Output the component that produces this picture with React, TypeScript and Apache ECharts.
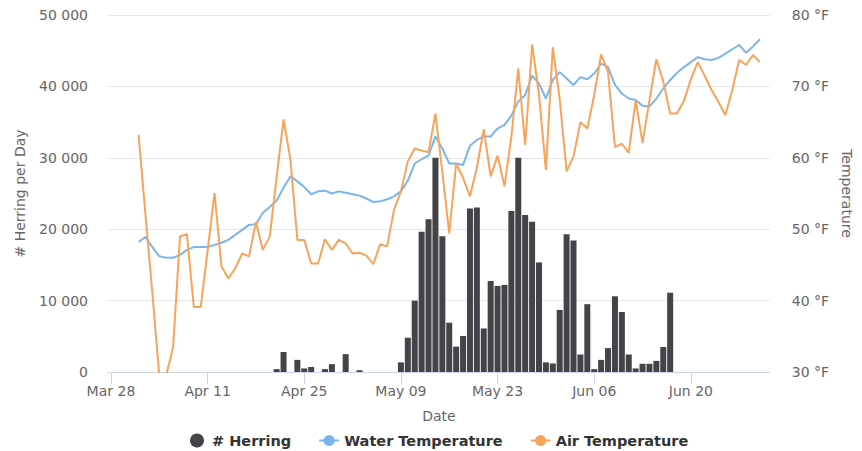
import React, { useEffect, useRef } from "react";
import * as echarts from "echarts";

// ---- data ----
const tickLabels = ["Mar 28", "Apr 11", "Apr 25", "May 09", "May 23", "Jun 06", "Jun 20"];
const axisStartDate = "03-28";

const herringDates = [
  "04-21", "04-22", "04-24", "04-25", "04-26", "04-28", "04-29", "05-01", "05-03",
  "05-09", "05-10", "05-11", "05-12", "05-13", "05-14", "05-15", "05-16", "05-17", "05-18",
  "05-19", "05-20", "05-21", "05-22", "05-23", "05-24", "05-25", "05-26", "05-27", "05-28",
  "05-29", "05-30", "05-31", "06-01", "06-02", "06-03", "06-04", "06-05", "06-06", "06-07",
  "06-08", "06-09", "06-10", "06-11", "06-12", "06-13", "06-14", "06-15", "06-16", "06-17",
];
const herringValues = [
  400, 2800, 1700, 500, 700, 400, 1100, 2500, 250,
  1350, 4800, 10000, 19650, 21400, 30000, 19000, 6900, 3550, 5050,
  22900, 23050, 6100, 12750, 12050, 12200, 22550, 30000, 22000, 21050,
  15350, 1350, 1200, 8700, 19300, 18400, 2450, 9500, 400, 1700,
  3350, 10600, 8400, 2450, 500, 1150, 1150, 1550, 3500, 11100,
];

// daily temperatures starting Apr 01
const tempStartDate = "04-01";
const waterTemp = [
  48.2, 48.9, 47.5, 46.2, 46.0, 46.0, 46.4, 47.1, 47.5, 47.5,
  47.5, 47.8, 48.1, 48.5, 49.2, 49.9, 50.6, 50.7, 52.3, 53.1,
  54.0, 55.8, 57.4, 56.7, 55.9, 54.9, 55.3, 55.4, 55.0, 55.3,
  55.1, 54.9, 54.7, 54.3, 53.8, 53.9, 54.2, 54.6, 55.3, 56.8,
  59.2, 59.8, 60.3, 63.0, 61.3, 59.2, 59.2, 59.0, 61.7, 62.5,
  63.0, 63.0, 64.1, 64.6, 65.9, 67.9, 68.8, 71.5, 70.4, 68.3,
  70.9, 72.0, 71.1, 70.2, 71.3, 71.0, 71.8, 73.2, 72.7, 70.2,
  69.0, 68.3, 68.1, 67.3, 67.2, 68.3, 69.7, 70.9, 71.9, 72.7,
  73.4, 74.1, 73.8, 73.7, 74.0, 74.6, 75.2, 75.8, 74.7, 75.6,
  76.6,
];
const airTemp = [
  63.2, 52.0, 41.0, 29.5, 29.5, 33.5, 49.0, 49.3, 39.1, 39.1,
  47.0, 55.1, 44.8, 43.1, 44.5, 46.6, 46.2, 51.0, 47.1, 49.0,
  57.3, 65.4, 59.7, 48.5, 48.5, 45.2, 45.2, 48.6, 47.1, 48.5,
  48.0, 46.6, 46.7, 46.3, 45.1, 47.9, 47.6, 52.7, 55.3, 59.5,
  61.3, 61.0, 60.8, 66.2, 58.0, 49.4, 59.2, 57.2, 54.6, 58.6,
  64.0, 57.4, 60.3, 56.0, 63.0, 72.5, 61.8, 75.9, 68.9, 58.3,
  75.5, 68.2, 58.1, 60.2, 65.0, 64.1, 68.8, 74.5, 72.0, 61.5,
  62.0, 60.7, 68.0, 62.1, 68.0, 73.8, 70.7, 66.2, 66.2, 68.0,
  71.0, 73.4, 71.5, 69.5, 67.8, 66.0, 69.5, 73.7, 73.0, 74.4,
  73.4,
];

const herringTicks = [0, 10000, 20000, 30000, 40000, 50000];
const tempTicks = [30, 40, 50, 60, 70, 80];

// ---- helpers ----
const DAY = 86400000;
const toTime = (md: string) => {
  const [m, d] = md.split("-").map(Number);
  return Date.UTC(2021, m - 1, d);
};
const dayIndex = (md: string) => Math.round((toTime(md) - toTime(axisStartDate)) / DAY);

const FONT = "'DejaVu Sans', sans-serif";

export default function App() {
  const ref = useRef<HTMLDivElement>(null);
  useEffect(() => {
    if (!ref.current) return;
    const chart = echarts.init(ref.current, undefined, { renderer: "svg" });
    const tStart = dayIndex(tempStartDate);
    const tickDays = tickLabels.map((_, i) => i * 14);
    chart.setOption({
      animation: false,
      backgroundColor: "#ffffff",
      textStyle: { fontFamily: FONT },
      grid: { left: 108, right: 83, top: 15, bottom: 79, containLabel: false },
      legend: {
        top: 433,
        height: 18,
        left: 190,
        padding: 0,
        itemGap: 27,
        itemWidth: 20,
        itemHeight: 14,
        textStyle: { fontFamily: FONT, fontSize: 14.5, fontWeight: "bold", color: "#333333" },
        data: [
          { name: "# Herring", icon: "circle" },
          { name: "Water Temperature" },
          { name: "Air Temperature" },
        ],
      },
      xAxis: {
        type: "value",
        min: -0.43,
        max: 95.43,
        name: "Date",
        nameLocation: "middle",
        nameGap: 37,
        nameTextStyle: { fontFamily: FONT, fontSize: 14, color: "#666666" },
        axisLine: { show: true, lineStyle: { color: "#ccd6eb", width: 1 } },
        axisTick: { show: true, length: 12, lineStyle: { color: "#ccd6eb" }, customValues: tickDays },
        axisLabel: {
          customValues: tickDays,
          margin: 12,
          fontFamily: FONT,
          fontSize: 14,
          color: "#666666",
          formatter: (v: number) => tickLabels[Math.round(v / 14)] ?? "",
        },
        splitLine: { show: false },
      },
      yAxis: [
        {
          type: "value",
          min: herringTicks[0],
          max: herringTicks[herringTicks.length - 1],
          interval: 10000,
          name: "# Herring per Day",
          nameLocation: "middle",
          nameGap: 81,
          nameTextStyle: { fontFamily: FONT, fontSize: 14, color: "#666666" },
          axisLine: { show: false },
          axisTick: { show: false },
          axisLabel: {
            margin: 20,
            fontFamily: FONT,
            fontSize: 14,
            color: "#666666",
            formatter: (v: number) => String(v).replace(/\B(?=(\d{3})+(?!\d))/g, " "),
          },
          splitLine: { show: true, lineStyle: { color: "#e6e6e6", width: 1 } },
        },
        {
          type: "value",
          min: tempTicks[0],
          max: tempTicks[tempTicks.length - 1],
          interval: 10,
          position: "right",
          name: "Temperature",
          nameLocation: "middle",
          nameRotate: -90,
          nameGap: 65,
          nameTextStyle: { fontFamily: FONT, fontSize: 14, color: "#666666" },
          axisLine: { show: false },
          axisTick: { show: false },
          axisLabel: {
            margin: 22,
            fontFamily: FONT,
            fontSize: 14,
            color: "#666666",
            formatter: (v: number) => `${v} °F`,
          },
          splitLine: { show: false },
        },
      ],
      series: [
        {
          name: "# Herring",
          type: "bar",
          yAxisIndex: 0,
          barWidth: 6,
          itemStyle: { color: "#434348" },
          data: herringDates.map((d, i) => [dayIndex(d), herringValues[i]]),
        },
        {
          name: "Water Temperature",
          type: "line",
          yAxisIndex: 1,
          symbol: "circle",
          symbolSize: 8,
          showSymbol: false,
          lineStyle: { color: "#7cb5ec", width: 2 },
          itemStyle: { color: "#7cb5ec" },
          data: waterTemp.map((v, i) => [tStart + i, v]),
        },
        {
          name: "Air Temperature",
          type: "line",
          yAxisIndex: 1,
          symbol: "circle",
          symbolSize: 8,
          showSymbol: false,
          lineStyle: { color: "#f7a35c", width: 2 },
          itemStyle: { color: "#f7a35c" },
          data: airTemp.map((v, i) => [tStart + i, v]),
        },
      ],
    });
    return () => chart.dispose();
  }, []);
  return (
    <div
      ref={ref}
      style={{ position: "fixed", left: 0, top: 0, width: 862, height: 451 }}
    />
  );
}
